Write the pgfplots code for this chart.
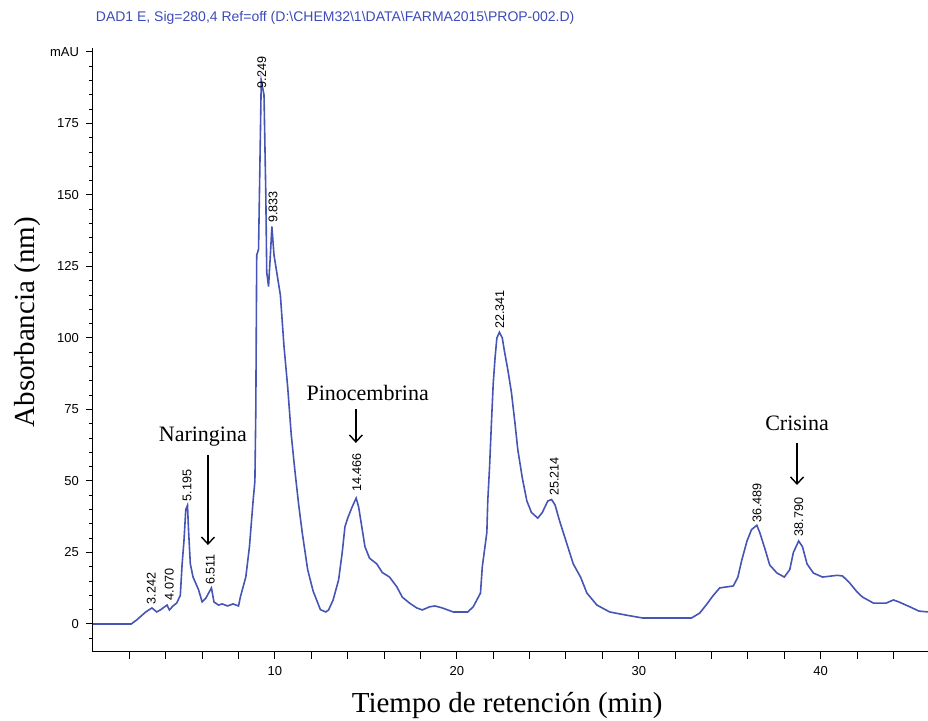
\documentclass[border=0pt]{standalone}
\usepackage{fontspec}
\setmainfont{Liberation Serif}
\newfontfamily\arial{Liberation Sans}
\usepackage{pgfplots}
\pgfplotsset{compat=1.18}
\usetikzlibrary{arrows.meta,calc}
\definecolor{trace}{RGB}{70,85,180}
\definecolor{hdr}{RGB}{60,75,185}

\begin{document}
\begin{tikzpicture}
\begin{axis}[
  name=ax,
  scale only axis,
  width=417.5pt, height=302pt,
  xmin=0, xmax=45.9,
  ymin=-9.8, ymax=201.4,
  axis lines=left,
  axis line style={-, line width=0.5pt},
  clip=false,
  xtick={2,4,...,44},
  xticklabels={,,,,10,,,,,20,,,,,30,,,,,40,,},
  ytick={0,25,...,200},
  yticklabels={0,25,50,75,100,125,150,175,mAU},
  minor ytick={-5,0,...,200},
  tick align=outside,
  major tick length=3.5pt,
  minor tick length=2pt,
  tick style={black, line width=0.5pt},
  ticklabel style={font=\arial\fontsize{6.5}{7}\selectfont},
  /pgf/number format/assume math mode=true,
]
\addplot[trace, line width=0.8pt] coordinates {
  (0,0) (2.1,0) (2.4,1.4) (2.9,4.2) (3.24,5.6) (3.5,4.2) (3.7,4.9) (4.07,6.6)
  (4.2,4.9) (4.4,6.3) (4.6,7.3) (4.8,10) (4.9,21) (5.0,29) (5.1,40) (5.195,41.5)
  (5.25,33) (5.35,21) (5.5,16.4) (5.8,12) (6.0,7.7) (6.2,9) (6.51,12.6) (6.65,7.7)
  (6.9,6.6) (7.1,7) (7.4,6.3) (7.7,7) (8.0,6.3) (8.1,9.4) (8.4,16.4) (8.6,27)
  (8.8,43) (8.9,50) (8.95,75) (9.0,129) (9.1,131) (9.249,190) (9.4,185) (9.5,150)
  (9.55,123) (9.65,118) (9.75,129) (9.833,139) (9.95,129) (10.3,115) (10.5,97)
  (10.7,83) (10.9,66) (11.1,53.5) (11.3,42) (11.5,32) (11.8,19) (12.1,11.5)
  (12.5,5) (12.8,4.2) (12.95,4.9) (13.2,8.4) (13.5,15.4) (13.7,25) (13.85,34)
  (14.0,37) (14.25,41) (14.466,44) (14.6,41) (14.8,33) (14.95,27) (15.2,23)
  (15.6,21) (15.9,18) (16.3,16.4) (16.7,13) (17.0,9.4) (17.4,7.3) (17.8,5.6)
  (18.1,4.9) (18.5,6) (18.8,6.3) (19.2,5.6) (19.8,4.2) (20.6,4.2) (20.9,6)
  (21.3,10.8) (21.4,20) (21.65,32) (21.7,43) (21.8,55) (21.9,70) (22.0,84)
  (22.1,93) (22.2,100) (22.34,102) (22.5,100) (22.6,96) (22.8,89) (23.0,81)
  (23.2,70) (23.35,61) (23.6,51) (23.85,43) (24.1,39) (24.45,37) (24.7,39)
  (25.0,43) (25.21,43.5) (25.4,41.6) (25.65,36) (26.05,28) (26.4,21) (26.8,16.4)
  (27.15,10.8) (27.7,6.6) (28.4,4.2) (29.3,3.1) (30.2,2.1) (32.9,2.1) (33.35,3.8)
  (33.7,6.6) (34.1,10) (34.45,12.6) (35.2,13.3) (35.45,16.4) (35.65,22) (35.95,29)
  (36.2,33) (36.49,34.5) (36.65,32) (36.95,26) (37.2,20.6) (37.6,17.8) (38.0,16.4)
  (38.3,19) (38.5,25) (38.79,29) (39.0,27) (39.25,21) (39.6,17.8) (40.1,16.4)
  (40.9,17) (41.2,16.8) (41.6,14.3) (42.0,11.2) (42.3,9.4) (42.9,7.3) (43.6,7.3)
  (44.0,8.4) (44.3,7.7) (44.9,6) (45.4,4.5) (45.9,4.2)
};

% peak labels
\begin{scope}[every node/.style={font=\arial\fontsize{6.3}{6.3}\selectfont, rotate=90, anchor=west, inner sep=0.3pt}]
\node at (axis cs:3.2,6.5) {3.242};
\node at (axis cs:4.2,8) {4.070};
\node at (axis cs:5.17,42.5) {5.195};
\node at (axis cs:6.45,13.3) {6.511};
\node at (axis cs:9.28,187) {9.249};
\node at (axis cs:9.9,140) {9.833};
\node at (axis cs:14.5,45.8) {14.466};
\node at (axis cs:22.36,102.8) {22.341};
\node at (axis cs:25.35,44.5) {25.214};
\node at (axis cs:36.5,35.3) {36.489};
\node at (axis cs:38.8,30.4) {38.790};
\end{scope}

% compound annotations
\node[font=\fontsize{11}{13}\selectfont] at (axis cs:6.04,65.4) {Naringina};
\draw[-{Straight Barb[length=3.5pt,width=6.5pt]}, line width=0.7pt] (axis cs:6.32,59) -- (axis cs:6.32,27.6);
\node[font=\fontsize{11}{13}\selectfont] at (axis cs:15.1,80.8) {Pinocembrina};
\draw[-{Straight Barb[length=3.5pt,width=6.5pt]}, line width=0.7pt] (axis cs:14.45,75) -- (axis cs:14.45,63.3);
\node[font=\fontsize{11}{13}\selectfont] at (axis cs:38.7,70.3) {Crisina};
\draw[-{Straight Barb[length=3.5pt,width=6.5pt]}, line width=0.7pt] (axis cs:38.7,63.3) -- (axis cs:38.7,48.6);

% titles
\node[font=\fontsize{14.5}{16}\selectfont, rotate=90] at (rel axis cs:-0.078,0.546) {Absorbancia (nm)};
\node[font=\fontsize{14.5}{16}\selectfont] at (rel axis cs:0.496,-0.088) {Tiempo de retención (min)};
\node[anchor=west, font=\arial\fontsize{7}{8}\selectfont, text=hdr, inner sep=0, yshift=15pt] at (rel axis cs:0.003,1) {DAD1 E, Sig=280,4 Ref=off (D:\textbackslash CHEM32\textbackslash 1\textbackslash DATA\textbackslash FARMA2015\textbackslash PROP-002.D)};
\end{axis}
\pgfresetboundingbox
\path[use as bounding box] ($(ax.south west)+(-46.5pt,-34.5pt)$) rectangle ($(ax.north east)+(0pt,24pt)$);
\end{tikzpicture}
\end{document}
